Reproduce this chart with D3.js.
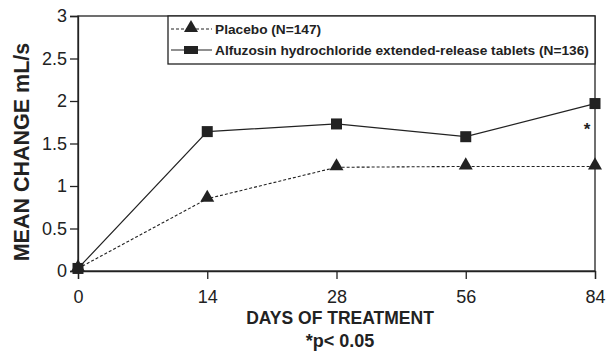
<!DOCTYPE html>
<html><head><meta charset="utf-8">
<script src="https://cdn.jsdelivr.net/npm/d3@7"></script>
<style>body{margin:0;background:#fff}svg{display:block}text{font-family:"Liberation Sans",Arial,sans-serif;fill:#222}</style>
</head><body>
<svg id="c" width="612" height="359"></svg>
<script>
const days = ["0","14","28","56","84"];
const placebo = [0.03, 0.85, 1.22, 1.23, 1.23];
const alfuzosin = [0.03, 1.64, 1.73, 1.58, 1.97];
const yTicks = [0, 0.5, 1, 1.5, 2, 2.5, 3];
const seriesNames = ["Placebo (N=147)", "Alfuzosin hydrochloride extended-release tablets (N=136)"];

const svg = d3.select("#c");
const L = 78, R = 595, T = 16, B = 271;
const x = d3.scalePoint().domain(days).range([L, R]);
const y = d3.scaleLinear().domain([0, 3]).range([B, T]);
const ink = "#222";

// frame
svg.append("rect").attr("x", L).attr("y", T).attr("width", R - L).attr("height", B - T)
  .attr("fill", "none").attr("stroke", ink).attr("stroke-width", 1.3);

const ya = svg.append("g").attr("transform", `translate(${L},0)`)
  .call(d3.axisLeft(y).tickValues(yTicks).tickSize(8).tickPadding(3).tickFormat(d3.format("")));
const xa = svg.append("g").attr("transform", `translate(0,${B})`)
  .call(d3.axisBottom(x).tickSize(8).tickPadding(11));
[ya, xa].forEach(a => {
  a.select(".domain").attr("stroke", ink).attr("stroke-width", 1.3);
  a.selectAll(".tick line").attr("stroke", ink).attr("stroke-width", 1.3);
  a.selectAll(".tick text").attr("font-size", 18).attr("fill", ink)
    .style("font-family", '"Liberation Sans",Arial,sans-serif');
});

const line = d3.line().x((d, i) => x(days[i])).y(d => y(d));
svg.append("path").datum(placebo).attr("d", line).attr("fill", "none")
  .attr("stroke", ink).attr("stroke-width", 1.1).attr("stroke-dasharray", "3,2");
svg.append("path").datum(alfuzosin).attr("d", line).attr("fill", "none")
  .attr("stroke", ink).attr("stroke-width", 1.2);

const tri = d3.symbol().type(d3.symbolTriangle).size(85);
svg.selectAll(".tri").data(placebo).join("path")
  .attr("transform", (d, i) => `translate(${x(days[i])},${y(d) - 1})`)
  .attr("d", tri).attr("fill", ink);
svg.selectAll(".sq").data(alfuzosin).join("rect")
  .attr("x", (d, i) => x(days[i]) - 5.5).attr("y", d => y(d) - 5.5)
  .attr("width", 11).attr("height", 11).attr("fill", ink);

// significance star
svg.append("text").attr("x", x("84") - 8).attr("y", y(alfuzosin[4]) + 31)
  .attr("text-anchor", "middle").attr("font-size", 17).attr("font-weight", "bold").text("*");

// legend
const lg = svg.append("g");
lg.append("rect").attr("x", 168).attr("y", T).attr("width", R - 168).attr("height", 48)
  .attr("fill", "#fff").attr("stroke", ink).attr("stroke-width", 1.3);
const rows = [29, 50];
lg.append("line").attr("x1", 171).attr("x2", 212).attr("y1", rows[0]).attr("y2", rows[0])
  .attr("stroke", ink).attr("stroke-dasharray", "3,2");
lg.append("path").attr("transform", `translate(191,${rows[0] - 1})`).attr("d", tri).attr("fill", ink);
lg.append("line").attr("x1", 171).attr("x2", 212).attr("y1", rows[1]).attr("y2", rows[1])
  .attr("stroke", ink).attr("stroke-width", 1.2);
lg.append("rect").attr("x", 184).attr("y", rows[1] - 4).attr("width", 14).attr("height", 8).attr("fill", ink);
seriesNames.forEach((n, i) => lg.append("text").attr("x", 215).attr("y", rows[i] + 5)
  .attr("font-size", 13.7).attr("font-weight", "bold").text(n));

// axis titles
svg.append("text").attr("transform", "translate(29,152) rotate(-90)").attr("text-anchor", "middle")
  .attr("font-size", 21.5).attr("font-weight", "bold").text("MEAN CHANGE mL/s");
svg.append("text").attr("x", 340).attr("y", 324).attr("text-anchor", "middle")
  .attr("font-size", 17.5).attr("font-weight", "bold").text("DAYS OF TREATMENT");
svg.append("text").attr("x", 340).attr("y", 347).attr("text-anchor", "middle")
  .attr("font-size", 18).attr("font-weight", "bold").text("*p< 0.05");
</script>
</body></html>
